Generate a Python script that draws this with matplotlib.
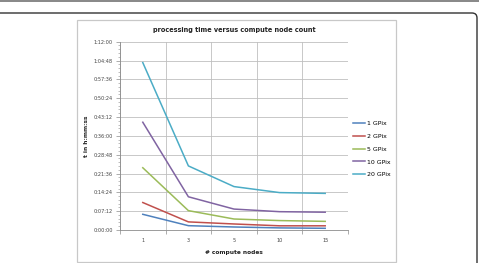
import numpy as np
import matplotlib
matplotlib.use("Agg")
import matplotlib.pyplot as plt
from matplotlib.patches import Rectangle, FancyBboxPatch
from matplotlib.transforms import IdentityTransform
from matplotlib.ticker import FuncFormatter, MultipleLocator

# compute node counts (categories) and processing time in minutes
nodes = ["1", "3", "5", "10", "15"]
t_1gpix = [6.0, 1.65, 1.15, 0.8, 0.65]
t_2gpix = [10.5, 3.1, 2.3, 1.6, 1.6]
t_5gpix = [23.8, 7.4, 4.2, 3.6, 3.3]
t_10gpix = [41.2, 12.7, 8.0, 7.0, 6.8]
t_20gpix = [64.0, 24.5, 16.6, 14.3, 14.0]

labels = ["1 GPix", "2 GPix", "5 GPix", "10 GPix", "20 GPix"]
colors = ["#4F81BD", "#C0504D", "#9BBB59", "#8064A2", "#4BACC6"]


def hms(v, pos):
    s = int(round(v * 60))
    return "%d:%02d:%02d" % (s // 3600, (s % 3600) // 60, s % 60)


fig = plt.figure(figsize=(4.79, 2.63), dpi=100)

# screenshot frame
fig.patches.append(Rectangle((0, 261), 479, 2, transform=IdentityTransform(),
                             facecolor="#8a8a8a", edgecolor="none"))
fig.patches.append(FancyBboxPatch((-20, -20), 497, 270, transform=IdentityTransform(),
                                  boxstyle="round,pad=0,rounding_size=5",
                                  facecolor="none", edgecolor="#333333", lw=1.0))
fig.patches.append(Rectangle((77, 1), 319, 242, transform=IdentityTransform(),
                             facecolor="none", edgecolor="#c8c8c8", lw=0.9))

ax = fig.add_axes([0.2505, 0.1255, 0.476, 0.716])
x = np.arange(len(nodes))
series = [t_1gpix, t_2gpix, t_5gpix, t_10gpix, t_20gpix]
for vals, lab, c in zip(series, labels, colors):
    ax.plot(x, vals, color=c, lw=1.1, label=lab)

ax.set_xlim(-0.5, len(nodes) - 0.5)
ax.set_ylim(0, 72)
ax.yaxis.set_major_locator(MultipleLocator(7.2))
ax.yaxis.set_minor_locator(MultipleLocator(1.44))
ax.yaxis.set_major_formatter(FuncFormatter(hms))
ax.set_xticks(x)
ax.set_xticklabels(nodes)
ax.set_xticks(np.arange(len(nodes) + 1) - 0.5, minor=True)

ax.grid(True, which="major", axis="y", color="#bfbfbf", lw=0.6)
ax.grid(True, which="minor", axis="x", color="#bfbfbf", lw=0.6)
ax.set_axisbelow(True)
for side in ["top", "right"]:
    ax.spines[side].set_visible(False)
ax.spines["left"].set_color("#8c8c8c")
ax.spines["bottom"].set_color("#8c8c8c")
ax.spines["left"].set_linewidth(0.6)
ax.spines["bottom"].set_linewidth(0.6)

ax.tick_params(axis="y", which="major", labelsize=3.6, length=3, width=0.5,
               color="#8c8c8c", labelcolor="#444444", pad=2)
ax.tick_params(axis="y", which="minor", length=1.5, width=0.4, color="#8c8c8c")
ax.tick_params(axis="x", which="major", labelsize=3.6, length=0,
               labelcolor="#444444", pad=6)
ax.tick_params(axis="x", which="minor", length=3, width=0.5, color="#8c8c8c")

ax.set_title("processing time versus compute node count", fontsize=4.7,
             fontweight="bold", color="#222222", pad=7)
ax.set_xlabel("# compute nodes", fontsize=4.2, fontweight="bold", color="#222222", labelpad=5)
ax.set_ylabel("t in h:mm:ss", fontsize=4.2, fontweight="bold", color="#222222", labelpad=3)

ax.legend(loc="center left", bbox_to_anchor=(1.01, 0.43), frameon=False,
          fontsize=4.5, handlelength=2.0, handletextpad=0.2, labelspacing=1.2,
          borderaxespad=0)

fig.savefig("out.png", dpi=100)
